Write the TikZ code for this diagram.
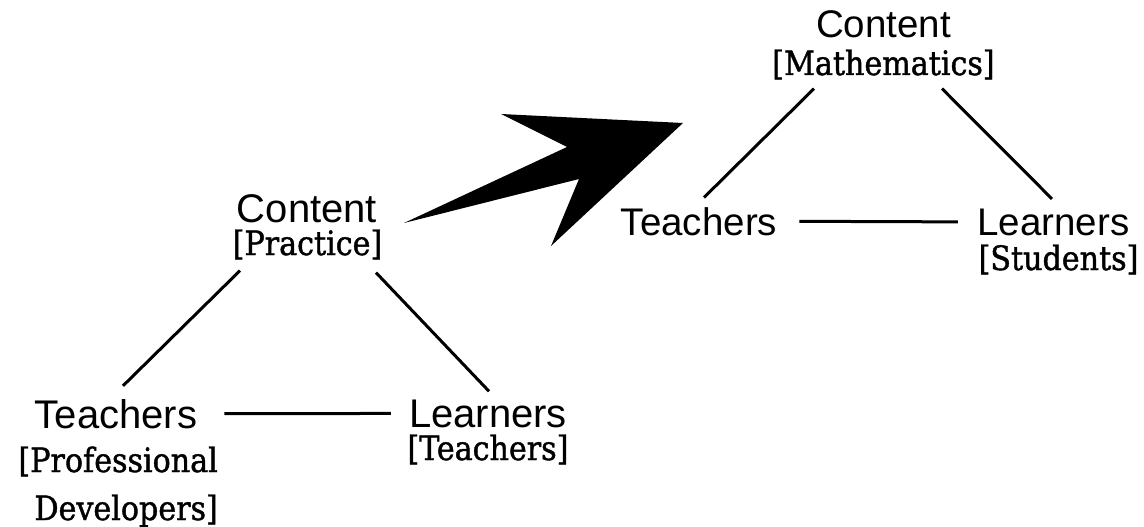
\documentclass[tikz,border=0pt]{standalone}
\usepackage{fontspec}
\newfontfamily\cornerfont{Liberation Sans}
\newfontfamily\rolefont[FakeBold=1.2]{DejaVu Serif Condensed}
\usetikzlibrary{calc}

\tikzset{
  corner/.style={inner sep=0pt, anchor=base, font=\cornerfont\fontsize{40}{48}\selectfont},
  cornersm/.style={corner, font=\cornerfont\fontsize{38.5}{46}\selectfont},
  role/.style={inner sep=0pt, anchor=base, font=\rolefont\fontsize{33.5}{48}\selectfont},
  link/.style={line width=3pt},
}

\begin{document}
\begin{tikzpicture}[x=1pt,y=-1pt]
  \useasboundingbox (0,0) rectangle (1144,527);

  % left triangle
  \node[corner] (contentL) at (307,222) {Content};
  \node[role] (practiceL) at (307.5,255) {[Practice]};
  \node[corner] (teachersL) at (116,428) {Teachers};
  \node[role, align=right, anchor=base east] (devL) at (218,520) {[Professional\\Developers]};
  \node[corner] (learnersL) at (488,427) {Learners};
  \node[role] (teachL) at (488,460) {[Teachers]};

  \draw[link] ([shift={(-67.5,11)}]practiceL.south) -- ([shift={(7,-13)}]teachersL.north);
  \draw[link] ([shift={(68.5,13)}]practiceL.south) -- ([shift={(1,-8)}]learnersL.north);
  \draw[link, shorten <=27pt, shorten >=18pt] (teachersL.east) -- (learnersL.west);

  % right triangle
  \node[cornersm] (contentR) at (883.5,38) {Content};
  \node[role] (mathR) at (883.5,75) {[Mathematics]};
  \node[cornersm] (teachersR) at (699,235) {Teachers};
  \node[cornersm] (learnersR) at (1053.5,235) {Learners};
  \node[role] (studentsR) at (1058.5,270) {[Students]};

  \draw[link] ([shift={(-69.5,9)}]mathR.south) -- ([shift={(5,-9.4)}]teachersR.north);
  \draw[link] ([shift={(58.5,9)}]mathR.south) -- ([shift={(-1.5,-9.4)}]learnersR.north);
  \draw[link, shorten <=22pt, shorten >=19.5pt] (teachersR.east) -- (learnersR.west);

  % big arrow between the two
  \fill (404,223) -- (567,147) -- (501,114) -- (683,123) -- (551,246) -- (579,179) -- cycle;
\end{tikzpicture}
\end{document}
